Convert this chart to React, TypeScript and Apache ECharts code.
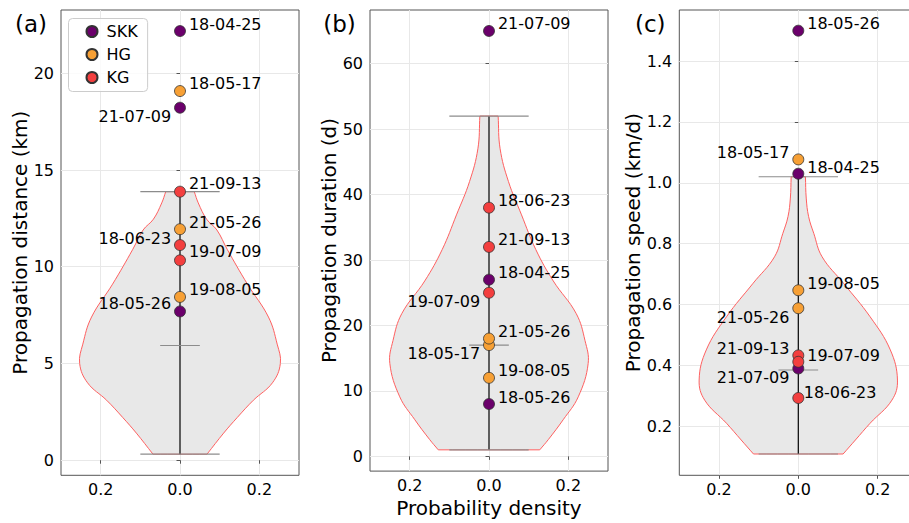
import React, { useEffect, useRef } from 'react';
import * as echarts from 'echarts';

// ---- data ----
const events = ['18-04-25', '18-05-17', '18-05-26', '18-06-23', '19-07-09', '19-08-05', '21-05-26', '21-07-09', '21-09-13'];
const groups = ['SKK', 'HG', 'SKK', 'KG', 'KG', 'HG', 'HG', 'SKK', 'KG'];
const distanceKm = [22.18, 19.08, 7.69, 11.12, 10.33, 8.44, 11.94, 18.22, 13.88];
const durationD = [27, 17, 8, 38, 25, 12, 18, 65, 32];
const speedKmD = [1.03, 1.077, 1.5, 0.293, 0.433, 0.647, 0.588, 0.39, 0.412];

const groupNames = ['SKK', 'HG', 'KG'];
const groupColors = ['#6b006b', '#f7a035', '#f33f3f'];

// violin outlines: value and half-width (probability density)
const violinDistY = [0.31, 1.4, 2.2, 3.1, 4.0, 5.0, 6.0, 7.4, 9.1, 10.9, 11.9, 12.46, 13.3, 13.88];
const violinDistW = [0.068, 0.11, 0.144, 0.185, 0.233, 0.253, 0.245, 0.223, 0.17, 0.119, 0.093, 0.067, 0.046, 0.036];
const violinDurY = [1, 2.6, 5.6, 9.1, 14.2, 17.7, 21.8, 26.8, 31.6, 36.9, 42, 47, 52];
const violinDurW = [0.128, 0.15, 0.187, 0.225, 0.25, 0.242, 0.22, 0.162, 0.118, 0.082, 0.049, 0.028, 0.023];
const violinSpdY = [0.109, 0.155, 0.21, 0.286, 0.352, 0.451, 0.56, 0.67, 0.757, 0.834, 0.889, 0.95, 1.02];
const violinSpdW = [0.113, 0.144, 0.181, 0.236, 0.25, 0.232, 0.181, 0.114, 0.06, 0.039, 0.026, 0.02, 0.018];

// min, median, max of each violin
const statsDist = [0.31, 5.93, 13.88];
const statsDur = [1, 17, 52];
const statsSpd = [0.109, 0.385, 1.02];

// axes
const yRangeDist = [-0.78, 23.27];
const yRangeDur = [-2.25, 68.2];
const yRangeSpd = [0.039, 1.568];
const yTicksDist = [0, 5, 10, 15, 20];
const yTicksDur = [0, 10, 20, 30, 40, 50, 60];
const yTicksSpd = [0.2, 0.4, 0.6, 0.8, 1.0, 1.2, 1.4];
const xTicks = [-0.2, 0, 0.2];
const xRange = [-0.3, 0.3];

const yTitles = ['Propagation distance (km)', 'Propagation duration (d)', 'Propagation speed (km/d)'];
const panelTags = ['(a)', '(b)', '(c)'];
const xTitle = 'Probability density';

// label placement (side, vertical shift) per event
const labelSideDist = ['r', 'r', 'l', 'l', 'r', 'r', 'r', 'l', 'r'];
const labelDyDist = [-7, -8, -8, -7, -9, -7, -7, 9, -8];
const labelSideDur = ['r', 'l', 'r', 'r', 'l', 'r', 'r', 'r', 'r'];
const labelDyDur = [-7, 8, -7, -7, 9, -7, -7, -7, -7];
const labelSideSpd = ['r', 'l', 'r', 'r', 'r', 'r', 'l', 'l', 'l'];
const labelDySpd = [-6, -7, -7, -6, 0, -7, 9, 9, -13];
const labelDxSpd = [0, 0, 0, -3.5, 0, 0, 0, 0, 0];

const panels = [
  { values: distanceKm, vy: violinDistY, vw: violinDistW, stats: statsDist, yr: yRangeDist, yt: yTicksDist, side: labelSideDist, dy: labelDyDist, dx: null as number[] | null, dec: 0, gap: 31 },
  { values: durationD, vy: violinDurY, vw: violinDurW, stats: statsDur, yr: yRangeDur, yt: yTicksDur, side: labelSideDur, dy: labelDyDur, dx: null as number[] | null, dec: 0, gap: 30 },
  { values: speedKmD, vy: violinSpdY, vw: violinSpdW, stats: statsSpd, yr: yRangeSpd, yt: yTicksSpd, side: labelSideSpd, dy: labelDySpd, dx: labelDxSpd, dec: 1, gap: 36 },
];

const gridLefts = [61, 370, 679.3];
const FONT = 'DejaVu Sans';

export default function App() {
  const ref = useRef<HTMLDivElement>(null);
  useEffect(() => {
    if (!ref.current) return;
    const chart = echarts.init(ref.current, null, { renderer: 'svg' });

    const grid = gridLefts.map((l) => ({
      left: l, top: 10, width: 238, height: 465.3, show: true,
      borderColor: '#555', borderWidth: 1, backgroundColor: 'transparent',
    }));

    const xAxis = panels.map((p, i) => ({
      type: 'value', gridIndex: i, min: xRange[0], max: xRange[1],
      axisLine: { show: false },
      axisTick: { show: true, length: 3.5, customValues: xTicks, lineStyle: { color: '#555' } },
      axisLabel: { customValues: xTicks, formatter: (v: number) => Math.abs(v).toFixed(1), fontSize: 16, color: '#000', margin: 6, fontFamily: FONT },
      splitLine: { show: true, lineStyle: { color: '#e8e8e8', width: 1 } },
      name: i === 1 ? xTitle : '', nameLocation: 'middle', nameGap: 24,
      nameTextStyle: { fontSize: 20, color: '#000', fontFamily: FONT },
    }));

    const yAxis = panels.map((p, i) => ({
      type: 'value', gridIndex: i, min: p.yr[0], max: p.yr[1],
      axisLine: { show: false },
      axisTick: { show: true, length: 3.5, customValues: p.yt, lineStyle: { color: '#555' } },
      axisLabel: { customValues: p.yt, formatter: (v: number) => v.toFixed(p.dec), fontSize: 16, color: '#000', margin: 7, fontFamily: FONT },
      splitLine: { show: true, lineStyle: { color: '#e8e8e8', width: 1 } },
      name: yTitles[i], nameLocation: 'middle', nameGap: p.gap,
      nameTextStyle: { fontSize: 20, color: '#000', fontFamily: FONT },
    }));

    const series: any[] = [];
    panels.forEach((p, i) => {
      series.push({
        type: 'custom', xAxisIndex: i, yAxisIndex: i, silent: true, z: 2, clip: false,
        data: [[0, p.stats[1]]],
        renderItem: (_params: any, api: any) => {
          const left = p.vy.map((y, k) => api.coord([-p.vw[k], y]));
          const right = p.vy.map((y, k) => api.coord([p.vw[k], y])).reverse();
          const n = left.length;
          // duplicate the end points so that the flat top and bottom keep sharp corners
          const pts = [left[0], ...left, left[n - 1], right[0], ...right, right[n - 1]];
          const seg = (x1: number, x2: number, y: number) => {
            const a = api.coord([x1, y]);
            const b = api.coord([x2, y]);
            return { type: 'line', shape: { x1: a[0], y1: a[1], x2: b[0], y2: b[1] }, style: { stroke: '#8c8c8c', lineWidth: 1.2 } };
          };
          const bot = api.coord([0, p.stats[0]]);
          const top = api.coord([0, p.stats[2]]);
          return {
            type: 'group',
            children: [
              { type: 'polygon', shape: { points: pts, smooth: 0.4 }, style: { fill: '#e8e8e8', stroke: '#ff6060', lineWidth: 1 } },
              { type: 'line', shape: { x1: bot[0], y1: bot[1], x2: top[0], y2: top[1] }, style: { stroke: '#000', lineWidth: 1.2 } },
              seg(-0.1, 0.1, p.stats[0]),
              seg(-0.1, 0.1, p.stats[2]),
              seg(-0.05, 0.05, p.stats[1]),
            ],
          };
        },
      });
      groupNames.forEach((g, gi) => {
        const data: any[] = [];
        events.forEach((ev, k) => {
          if (groups[k] !== g) return;
          const right = p.side[k] === 'r';
          data.push({
            value: [0, p.values[k]],
            label: {
              show: true, formatter: ev, position: right ? 'right' : 'left', distance: 3,
              offset: [p.dx ? p.dx[k] : 0, p.dy[k]],
            },
          });
        });
        series.push({
          type: 'scatter', name: g, xAxisIndex: i, yAxisIndex: i, z: 5,
          symbol: 'circle', symbolSize: 11,
          itemStyle: { color: groupColors[gi], borderColor: '#333', borderWidth: 0.8, opacity: 1 },
          label: { fontSize: 16, color: '#000', fontFamily: FONT },
          data,
        });
      });
    });

    chart.setOption({
      animation: false,
      textStyle: { fontFamily: FONT },
      grid, xAxis, yAxis, series,
      legend: {
        data: groupNames, orient: 'vertical', left: 68.5, top: 18.5,
        padding: [5, 10, 6, 17], itemWidth: 11, itemHeight: 11, itemGap: 7,
        backgroundColor: 'rgba(255,255,255,0.8)', borderColor: '#cccccc', borderWidth: 1, borderRadius: 4,
        formatter: (name: string) => '{g|}' + name,
        textStyle: { fontSize: 16, color: '#000', fontFamily: FONT, lineHeight: 16, rich: { g: { width: 4 } } },
        selectedMode: false, z: 6,
      },
      graphic: panelTags.map((t, i) => ({
        type: 'text', left: [15, 323.3, 635][i], top: 12,
        style: { text: t, fontSize: 23, fill: '#000', fontFamily: FONT },
        z: 10,
      })),
    });
    return () => chart.dispose();
  }, []);
  return (
    <div style={{ position: 'absolute', left: 0, top: 0, width: 909, height: 523, overflow: 'hidden' }}>
      <div ref={ref} style={{ width: 930, height: 523 }} />
    </div>
  );
}
